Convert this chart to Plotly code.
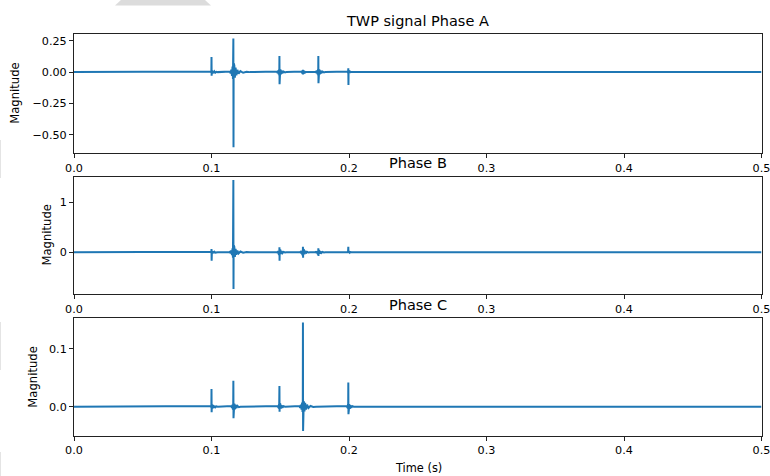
import plotly.graph_objects as go

W, H = 770, 476

# ---------------- data ----------------
# Phase A: flat signal with travelling-wave bursts
time_a = [0.0,
          0.0996, 0.0998, 0.0999, 0.1000, 0.1001, 0.1003, 0.1006, 0.1010, 0.1015, 0.1021, 0.1028, 0.1036, 0.1045,
          0.1129, 0.1134, 0.1139, 0.1144, 0.1149, 0.1153, 0.1156, 0.1158, 0.1159, 0.1160, 0.1161, 0.1163, 0.1166,
          0.1170, 0.1175, 0.1181, 0.1188, 0.1197, 0.1210, 0.1230, 0.1255, 0.1280,
          0.1470, 0.1476, 0.1481, 0.1485, 0.1489, 0.1492, 0.1493, 0.1494, 0.1495, 0.1496, 0.1498, 0.1501, 0.1505,
          0.1510, 0.1516, 0.1524, 0.1535, 0.1545,
          0.1650, 0.1655, 0.1659, 0.1662, 0.1664, 0.1665, 0.1666, 0.1668, 0.1671, 0.1675, 0.1680, 0.1686,
          0.1753, 0.1759, 0.1764, 0.1768, 0.1772, 0.1775, 0.1776, 0.1777, 0.1778, 0.1779, 0.1781, 0.1784, 0.1788,
          0.1793, 0.1799, 0.1807, 0.1818, 0.1828,
          0.1988, 0.1991, 0.1993, 0.1994, 0.1995, 0.1996, 0.1997, 0.1999, 0.2002, 0.2006, 0.2011, 0.2018,
          0.5]
mag_a = [0.0,
         0.0, 0.004, -0.006, 0.12, -0.028, 0.014, -0.012, 0.01, -0.008, 0.006, -0.004, 0.002, 0.0,
         0.0, 0.005, -0.01, 0.02, -0.03, 0.045, -0.055, 0.065, 0.268, -0.598, 0.07, -0.065, 0.055,
         -0.045, 0.035, -0.025, 0.018, -0.012, 0.008, -0.005, 0.003, 0.0,
         0.0, 0.004, -0.008, 0.013, -0.018, 0.023, -0.027, 0.128, -0.097, 0.027, -0.025, 0.022, -0.018,
         0.013, -0.009, 0.005, -0.002, 0.0,
         0.0, 0.004, -0.008, 0.013, -0.016, 0.018, -0.018, 0.015, -0.012, 0.008, -0.004, 0.0,
         0.0, 0.004, -0.008, 0.013, -0.018, 0.023, -0.027, 0.128, -0.089, 0.027, -0.025, 0.022, -0.018,
         0.013, -0.009, 0.005, -0.002, 0.0,
         0.0, 0.004, -0.008, 0.01, 0.03, -0.103, 0.012, -0.01, 0.008, -0.005, 0.003, 0.0,
         0.0]

# Phase B
time_b = [0.0,
          0.0996, 0.0998, 0.0999, 0.1000, 0.1001, 0.1003, 0.1006, 0.1010, 0.1015, 0.1021, 0.1028, 0.1036, 0.1045,
          0.1129, 0.1134, 0.1139, 0.1144, 0.1149, 0.1153, 0.1156, 0.1157, 0.1158, 0.1159, 0.1160, 0.1161, 0.1163,
          0.1166, 0.1170, 0.1175, 0.1181, 0.1188, 0.1197, 0.1210, 0.1230, 0.1255, 0.1280,
          0.1470, 0.1476, 0.1481, 0.1485, 0.1489, 0.1492, 0.1493, 0.1494, 0.1495, 0.1496, 0.1498, 0.1501, 0.1505,
          0.1510, 0.1516, 0.1524, 0.1535, 0.1545,
          0.1641, 0.1647, 0.1652, 0.1656, 0.1660, 0.1663, 0.1664, 0.1665, 0.1666, 0.1667, 0.1669, 0.1672, 0.1676,
          0.1681, 0.1687, 0.1695, 0.1706, 0.1716,
          0.1753, 0.1759, 0.1764, 0.1768, 0.1772, 0.1775, 0.1776, 0.1777, 0.1778, 0.1779, 0.1781, 0.1784, 0.1788,
          0.1793, 0.1799, 0.1807, 0.1818, 0.1828,
          0.1988, 0.1991, 0.1993, 0.1994, 0.1995, 0.1996, 0.1997, 0.1999, 0.2002, 0.2006, 0.2011, 0.2018,
          0.5]
mag_b = [0.0,
         0.0, 0.01, -0.015, 0.066, -0.17, 0.03, -0.025, 0.02, -0.015, 0.01, -0.006, 0.003, 0.0,
         0.0, 0.01, -0.02, 0.035, -0.055, 0.08, -0.11, 0.14, 0.35, 1.446, -0.734, 0.14, -0.13,
         0.11, -0.09, 0.07, -0.05, 0.035, -0.024, 0.015, -0.009, 0.005, 0.0,
         0.0, 0.008, -0.015, 0.025, -0.035, 0.045, -0.05, 0.10, -0.17, 0.05, -0.048, 0.042, -0.034,
         0.025, -0.016, 0.009, -0.004, 0.0,
         0.0, 0.01, -0.018, 0.03, -0.042, 0.055, -0.06, 0.11, -0.11, 0.06, -0.058, 0.05, -0.04,
         0.03, -0.02, 0.011, -0.005, 0.0,
         0.0, 0.006, -0.012, 0.02, -0.028, 0.035, -0.04, 0.08, -0.074, 0.04, -0.038, 0.033, -0.026,
         0.019, -0.012, 0.007, -0.003, 0.0,
         0.0, 0.006, -0.012, 0.015, 0.11, -0.02, 0.02, -0.016, 0.012, -0.008, 0.004, 0.0,
         0.0]

# Phase C
time_c = [0.0,
          0.0996, 0.0998, 0.0999, 0.1000, 0.1001, 0.1003, 0.1006, 0.1010, 0.1015, 0.1021, 0.1028, 0.1036, 0.1045,
          0.1140, 0.1145, 0.1149, 0.1153, 0.1156, 0.1158, 0.1159, 0.1160, 0.1161, 0.1163, 0.1166, 0.1170,
          0.1175, 0.1181, 0.1189, 0.1199, 0.1210,
          0.1478, 0.1483, 0.1487, 0.1490, 0.1492, 0.1493, 0.1494, 0.1495, 0.1496, 0.1498, 0.1501, 0.1505,
          0.1510, 0.1516, 0.1524, 0.1535,
          0.1635, 0.1640, 0.1645, 0.1650, 0.1655, 0.1659, 0.1662, 0.1664, 0.1665, 0.1666, 0.1667, 0.1669,
          0.1672, 0.1676, 0.1681, 0.1687, 0.1695, 0.1705, 0.1720, 0.1740, 0.1760,
          0.1980, 0.1985, 0.1989, 0.1992, 0.1994, 0.1995, 0.1996, 0.1997, 0.1999, 0.2002, 0.2006, 0.2011,
          0.2017, 0.2025, 0.2035,
          0.5]
mag_c = [0.0,
         0.0, 0.001, -0.002, 0.0307, -0.0098, 0.004, -0.0035, 0.003, -0.0022, 0.0015, -0.001, 0.0005, 0.0,
         0.0, 0.001, -0.002, 0.0035, -0.005, 0.006, 0.045, -0.020, 0.007, -0.0065, 0.0055, -0.0045,
         0.0035, -0.0025, 0.0015, -0.0008, 0.0,
         0.0, 0.001, -0.002, 0.003, -0.004, 0.005, 0.036, -0.0087, 0.0055, -0.005, 0.0042, -0.0034,
         0.0025, -0.0016, 0.0009, 0.0,
         0.0, 0.001, -0.002, 0.0035, -0.005, 0.007, -0.009, 0.010, 0.146, -0.042, 0.011, -0.0105,
         0.0095, -0.008, 0.0065, -0.005, 0.0035, -0.0022, 0.0012, -0.0005, 0.0,
         0.0, 0.001, -0.002, 0.003, -0.004, 0.042, -0.013, 0.006, -0.0055, 0.0045, -0.0035, 0.0025,
         -0.0015, 0.0008, 0.0,
         0.0]

x_ticks = [0.0, 0.1, 0.2, 0.3, 0.4, 0.5]
y_ticks_a = [-0.5, -0.25, 0.0, 0.25]
y_ticks_b = [0, 1]
y_ticks_c = [0.0, 0.1]
panel_titles = ["TWP signal Phase A", "Phase B", "Phase C"]
y_label = "Magnitude"
x_label = "Time (s)"

# ---------------- layout helpers (pixel -> paper) ----------------
def px(x):
    return x / W

def py(y):
    return 1 - y / H

LINE = "#1f77b4"
FONT = "DejaVu Sans"
TXT = "#000000"

x_left, x_right = 74, 761.5
panels = [
    dict(top=34.3, bottom=153.3, rng=[-0.646, 0.301], ticks=y_ticks_a, fmt=".2f", ylab_x=15),
    dict(top=176.7, bottom=294.3, rng=[-0.84, 1.512], ticks=y_ticks_b, fmt="d", ylab_x=46),
    dict(top=318.3, bottom=436.0, rng=[-0.0508, 0.1532], ticks=y_ticks_c, fmt=".1f", ylab_x=33.5),
]

fig = go.Figure()
series = [(time_a, mag_a), (time_b, mag_b), (time_c, mag_c)]
for i, (t, v) in enumerate(series, start=1):
    sfx = "" if i == 1 else str(i)
    fig.add_trace(go.Scatter(x=t, y=v, mode="lines",
                             line=dict(color=LINE, width=2),
                             xaxis="x" + sfx, yaxis="y" + sfx,
                             hoverinfo="skip", showlegend=False))

axis_common = dict(showline=True, mirror=True, linecolor="#222222", linewidth=1,
                   ticks="outside", ticklen=4, tickwidth=1, tickcolor="#222222",
                   showgrid=False, zeroline=False, automargin=False,
                   ticklabeloverflow="allow",
                   tickfont=dict(family=FONT, size=11.2, color=TXT))

layout = dict(width=W, height=H, margin=dict(l=0, r=0, t=0, b=0, autoexpand=False),
              paper_bgcolor="white", plot_bgcolor="white", showlegend=False)

annotations = []
for i, p in enumerate(panels, start=1):
    sfx = "" if i == 1 else str(i)
    layout["xaxis" + sfx] = dict(axis_common, domain=[px(x_left), px(x_right)],
                                 range=[0, 0.5], tickvals=x_ticks, tickformat=".1f",
                                 anchor="y" + sfx)
    layout["yaxis" + sfx] = dict(axis_common, domain=[py(p["bottom"]), py(p["top"])],
                                 range=p["rng"], tickvals=p["ticks"], tickformat=p["fmt"],
                                 anchor="x" + sfx)
    annotations.append(dict(text=panel_titles[i - 1], xref="paper", yref="paper",
                            x=px((x_left + x_right) / 2), y=py(p["top"] - 13.5),
                            xanchor="center", yanchor="middle", showarrow=False,
                            font=dict(family=FONT, size=14.5, color=TXT)))
    annotations.append(dict(text=y_label, xref="paper", yref="paper",
                            x=px(p["ylab_x"]), y=py((p["top"] + p["bottom"]) / 2),
                            xanchor="center", yanchor="middle", textangle=-90,
                            showarrow=False, font=dict(family=FONT, size=11.6, color=TXT)))

annotations.append(dict(text=x_label, xref="paper", yref="paper",
                        x=px(418.3), y=py(467.5), xanchor="center", yanchor="middle",
                        showarrow=False, font=dict(family=FONT, size=11.4, color=TXT)))
layout["annotations"] = annotations

# light grey screenshot artefacts (top edge wedge, faint marks on the left edge)
shape_path = "M {:.4f},{:.4f} L {:.4f},{:.4f} L {:.4f},{:.4f} L {:.4f},{:.4f} Z".format(
    px(115), py(5.5), px(121), py(0), px(205), py(0), px(211), py(5.5))
shapes = [dict(type="path", xref="paper", yref="paper", path=shape_path,
               fillcolor="#dcdcdc", line=dict(width=0), layer="above")]
for y0, y1 in [(140, 178), (322, 370), (452, 476)]:
    shapes.append(dict(type="line", xref="paper", yref="paper",
                       x0=px(0.5), x1=px(0.5), y0=py(y0), y1=py(y1),
                       line=dict(color="#e4e4e4", width=1), layer="above"))
layout["shapes"] = shapes

fig.update_layout(**layout)
fig.write_html("out.html")
